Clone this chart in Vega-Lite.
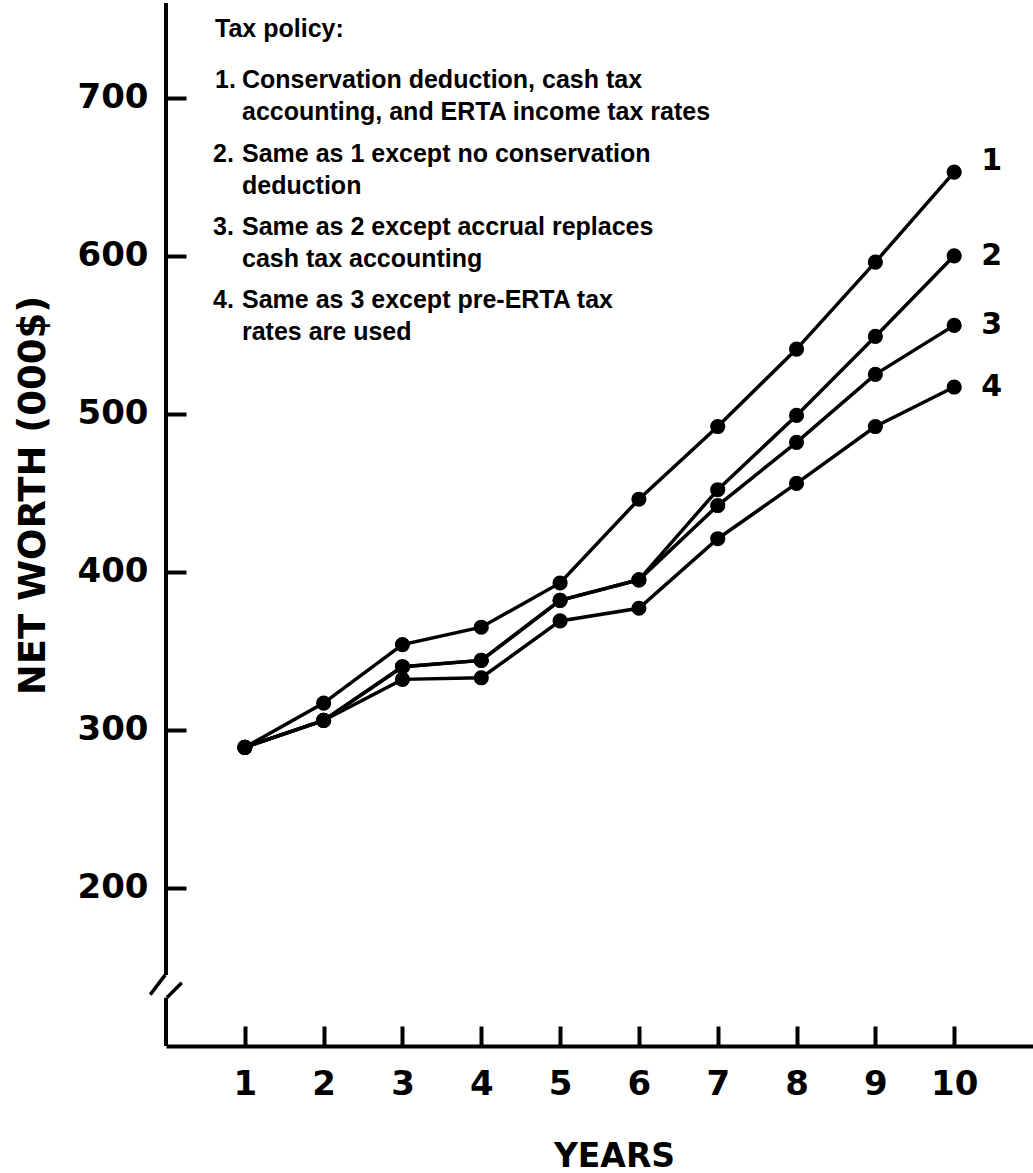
{
  "$schema": "https://vega.github.io/schema/vega-lite/v6.json",
  "width": 867,
  "height": 1043,
  "autosize": {"type": "none"},
  "padding": {"left": 166, "top": 3, "right": 0, "bottom": 127},
  "background": "white",
  "config": {"view": {"stroke": null}, "axis": {"grid": false}},
  "datasets": {
    "networth": [
      {"policy": "1", "year": 1, "value": 289}, {"policy": "1", "year": 2, "value": 317}, {"policy": "1", "year": 3, "value": 354}, {"policy": "1", "year": 4, "value": 365}, {"policy": "1", "year": 5, "value": 393}, {"policy": "1", "year": 6, "value": 446}, {"policy": "1", "year": 7, "value": 492}, {"policy": "1", "year": 8, "value": 541}, {"policy": "1", "year": 9, "value": 596}, {"policy": "1", "year": 10, "value": 653},
      {"policy": "2", "year": 1, "value": 289}, {"policy": "2", "year": 2, "value": 306}, {"policy": "2", "year": 3, "value": 340}, {"policy": "2", "year": 4, "value": 344}, {"policy": "2", "year": 5, "value": 382}, {"policy": "2", "year": 6, "value": 395}, {"policy": "2", "year": 7, "value": 452}, {"policy": "2", "year": 8, "value": 499}, {"policy": "2", "year": 9, "value": 549}, {"policy": "2", "year": 10, "value": 600},
      {"policy": "3", "year": 1, "value": 289}, {"policy": "3", "year": 2, "value": 306}, {"policy": "3", "year": 3, "value": 340}, {"policy": "3", "year": 4, "value": 344}, {"policy": "3", "year": 5, "value": 382}, {"policy": "3", "year": 6, "value": 395}, {"policy": "3", "year": 7, "value": 442}, {"policy": "3", "year": 8, "value": 482}, {"policy": "3", "year": 9, "value": 525}, {"policy": "3", "year": 10, "value": 556},
      {"policy": "4", "year": 1, "value": 289}, {"policy": "4", "year": 2, "value": 306}, {"policy": "4", "year": 3, "value": 332}, {"policy": "4", "year": 4, "value": 333}, {"policy": "4", "year": 5, "value": 369}, {"policy": "4", "year": 6, "value": 377}, {"policy": "4", "year": 7, "value": 421}, {"policy": "4", "year": 8, "value": 456}, {"policy": "4", "year": 9, "value": 492}, {"policy": "4", "year": 10, "value": 517}
    ]
  },
  "data": {"name": "networth"},
  "layer": [
    {
      "mark": {"type": "line", "color": "black", "strokeWidth": 3.5},
      "encoding": {
        "x": {
          "field": "year", "type": "quantitative",
          "scale": {"domain": [0, 11], "nice": false, "zero": false},
          "axis": {
            "values": [1, 2, 3, 4, 5, 6, 7, 8, 9, 10],
            "format": "d",
            "title": "YEARS",
            "domainColor": "black", "domainWidth": 4,
            "tickColor": "black", "tickWidth": 4, "tickSize": -20,
            "labelPadding": 41, "labelFont": "DejaVu Sans", "labelFontWeight": "bold", "labelFontSize": 34, "labelColor": "black", "labelFlush": false, "labelOverlap": false,
            "titleFont": "DejaVu Sans", "titleFontWeight": "bold", "titleFontSize": 33, "titleColor": "black",
            "titleX": 448, "titleY": 120, "titleBaseline": "alphabetic", "titleAlign": "center"
          }
        },
        "y": {
          "field": "value", "type": "quantitative",
          "scale": {"domain": [100, 760], "nice": false, "zero": false},
          "axis": {
            "values": [200, 300, 400, 500, 600, 700],
            "format": "d",
            "title": "NET WORTH (000$)",
            "domain": false,
            "tickColor": "black", "tickWidth": 4, "tickSize": -20,
            "labelPadding": 38, "labelFont": "DejaVu Sans", "labelFontWeight": "bold", "labelFontSize": 34, "labelColor": "black", "labelFlush": false,
            "titleFont": "DejaVu Sans", "titleFontWeight": "bold", "titleFontSize": 37, "titleColor": "black",
            "titleX": -122, "titleY": 492, "titleBaseline": "alphabetic", "titleAlign": "center", "titleAngle": -90
          }
        },
        "detail": {"field": "policy"}
      }
    },
    {
      "mark": {"type": "circle", "size": 230, "color": "black", "opacity": 1},
      "encoding": {
        "x": {"field": "year", "type": "quantitative"},
        "y": {"field": "value", "type": "quantitative"}
      }
    },
    {
      "transform": [{"filter": "datum.year == 10 && datum.policy == '1'"}],
      "mark": {"type": "text", "align": "left", "baseline": "middle", "dx": 27, "dy": -11, "font": "DejaVu Sans", "fontWeight": "bold", "fontSize": 30, "color": "black"},
      "encoding": {
        "x": {"field": "year", "type": "quantitative"},
        "y": {"field": "value", "type": "quantitative"},
        "text": {"field": "policy"}
      }
    },
    {
      "transform": [{"filter": "datum.year == 10 && datum.policy != '1'"}],
      "mark": {"type": "text", "align": "left", "baseline": "middle", "dx": 27, "font": "DejaVu Sans", "fontWeight": "bold", "fontSize": 30, "color": "black"},
      "encoding": {
        "x": {"field": "year", "type": "quantitative"},
        "y": {"field": "value", "type": "quantitative"},
        "text": {"field": "policy"}
      }
    },
    {
      "data": {"values": [{}]},
      "mark": {"type": "rule", "color": "black", "strokeWidth": 4},
      "encoding": {"x": {"datum": 0}, "y": {"datum": 760}, "y2": {"datum": 145}}
    },
    {
      "data": {"values": [{}]},
      "mark": {"type": "rule", "color": "black", "strokeWidth": 4},
      "encoding": {"x": {"datum": 0}, "y": {"datum": 100}, "y2": {"datum": 130.5}}
    },
    {
      "data": {"values": [{}]},
      "mark": {"type": "rule", "color": "black", "strokeWidth": 3.5},
      "encoding": {"x": {"datum": -0.2}, "x2": {"datum": -0.01}, "y": {"datum": 132.5}, "y2": {"datum": 145}}
    },
    {
      "data": {"values": [{}]},
      "mark": {"type": "rule", "color": "black", "strokeWidth": 3.5},
      "encoding": {"x": {"datum": 0.01}, "x2": {"datum": 0.2}, "y": {"datum": 130.5}, "y2": {"datum": 140}}
    },
    {
      "data": {"values": [{}]},
      "mark": {"type": "text", "align": "left", "baseline": "alphabetic", "font": "Liberation Sans", "fontWeight": "bold", "fontSize": 25, "color": "black"},
      "encoding": {"x": {"datum": 0.622}, "y": {"datum": 738.5}, "text": {"value": "Tax policy:"}}
    },
    {
      "data": {"values": [{}]},
      "mark": {"type": "text", "align": "left", "baseline": "alphabetic", "font": "Liberation Sans", "fontWeight": "bold", "fontSize": 25, "color": "black"},
      "encoding": {"x": {"datum": 0.622}, "y": {"datum": 706.2}, "text": {"value": "1."}}
    },
    {
      "data": {"values": [{}]},
      "mark": {"type": "text", "align": "left", "baseline": "alphabetic", "font": "Liberation Sans", "fontWeight": "bold", "fontSize": 25, "lineHeight": 32, "color": "black"},
      "encoding": {"x": {"datum": 0.964}, "y": {"datum": 706.2}, "text": {"value": ["Conservation deduction, cash tax", "accounting, and ERTA income tax rates"]}}
    },
    {
      "data": {"values": [{}]},
      "mark": {"type": "text", "align": "left", "baseline": "alphabetic", "font": "Liberation Sans", "fontWeight": "bold", "fontSize": 25, "color": "black"},
      "encoding": {"x": {"datum": 0.597}, "y": {"datum": 659.6}, "text": {"value": "2."}}
    },
    {
      "data": {"values": [{}]},
      "mark": {"type": "text", "align": "left", "baseline": "alphabetic", "font": "Liberation Sans", "fontWeight": "bold", "fontSize": 25, "lineHeight": 32, "color": "black"},
      "encoding": {"x": {"datum": 0.964}, "y": {"datum": 659.6}, "text": {"value": ["Same as 1 except no conservation", "deduction"]}}
    },
    {
      "data": {"values": [{}]},
      "mark": {"type": "text", "align": "left", "baseline": "alphabetic", "font": "Liberation Sans", "fontWeight": "bold", "fontSize": 25, "color": "black"},
      "encoding": {"x": {"datum": 0.597}, "y": {"datum": 613.2}, "text": {"value": "3."}}
    },
    {
      "data": {"values": [{}]},
      "mark": {"type": "text", "align": "left", "baseline": "alphabetic", "font": "Liberation Sans", "fontWeight": "bold", "fontSize": 25, "lineHeight": 32, "color": "black"},
      "encoding": {"x": {"datum": 0.964}, "y": {"datum": 613.2}, "text": {"value": ["Same as 2 except accrual replaces", "cash tax accounting"]}}
    },
    {
      "data": {"values": [{}]},
      "mark": {"type": "text", "align": "left", "baseline": "alphabetic", "font": "Liberation Sans", "fontWeight": "bold", "fontSize": 25, "color": "black"},
      "encoding": {"x": {"datum": 0.597}, "y": {"datum": 567}, "text": {"value": "4."}}
    },
    {
      "data": {"values": [{}]},
      "mark": {"type": "text", "align": "left", "baseline": "alphabetic", "font": "Liberation Sans", "fontWeight": "bold", "fontSize": 25, "lineHeight": 32, "color": "black"},
      "encoding": {"x": {"datum": 0.964}, "y": {"datum": 567}, "text": {"value": ["Same as 3 except pre-ERTA tax", "rates are used"]}}
    }
  ]
}
